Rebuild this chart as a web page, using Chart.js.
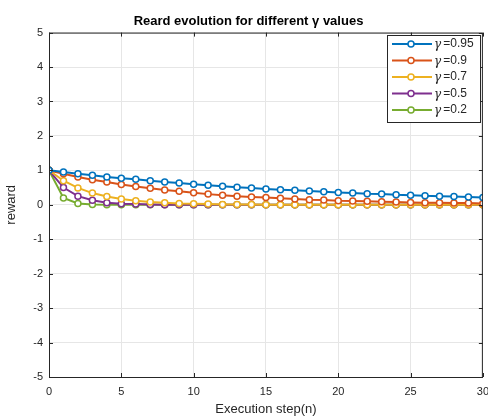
<!DOCTYPE html>
<html>
<head>
<meta charset="utf-8">
<script src="https://cdn.jsdelivr.net/npm/chart.js@4"></script>
<style>
html, body { margin: 0; padding: 0; background: #fff; overflow: hidden; }
#wrap { position: relative; width: 497px; height: 418px; }
</style>
</head>
<body>
<div id="wrap"><canvas id="myChart"></canvas></div>
<script>
const steps = [0, 1, 2, 3, 4, 5, 6, 7, 8, 9, 10, 11, 12, 13, 14, 15, 16, 17, 18, 19, 20, 21, 22, 23, 24, 25, 26, 27, 28, 29, 30];
const gammaLabels = ['0.95', '0.9', '0.7', '0.5', '0.2'];
const xTicks = [0, 5, 10, 15, 20, 25, 30];
const yTicks = [-5, -4, -3, -2, -1, 0, 1, 2, 3, 4, 5];

// values
const reward95 = [1, 0.95, 0.9, 0.86, 0.81, 0.77, 0.74, 0.7, 0.66, 0.63, 0.6, 0.57, 0.54, 0.51, 0.49, 0.46, 0.44, 0.42, 0.4, 0.38, 0.36, 0.34, 0.32, 0.31, 0.29, 0.28, 0.26, 0.25, 0.24, 0.23, 0.21];
const reward90 = [1, 0.9, 0.81, 0.73, 0.66, 0.59, 0.53, 0.48, 0.43, 0.39, 0.35, 0.31, 0.28, 0.25, 0.23, 0.21, 0.19, 0.17, 0.15, 0.14, 0.12, 0.11, 0.1, 0.09, 0.08, 0.07, 0.06, 0.06, 0.05, 0.05, 0.04];
const reward70 = [1, 0.7, 0.49, 0.34, 0.24, 0.17, 0.12, 0.08, 0.06, 0.04, 0.03, 0.02, 0.01, 0.01, 0.01, 0, 0, 0, 0, 0, 0, 0, 0, 0, 0, 0, 0, 0, 0, 0, 0];
const reward50 = [1, 0.5, 0.25, 0.13, 0.06, 0.03, 0.02, 0.01, 0, 0, 0, 0, 0, 0, 0, 0, 0, 0, 0, 0, 0, 0, 0, 0, 0, 0, 0, 0, 0, 0, 0];
const reward20 = [1, 0.2, 0.04, 0.01, 0, 0, 0, 0, 0, 0, 0, 0, 0, 0, 0, 0, 0, 0, 0, 0, 0, 0, 0, 0, 0, 0, 0, 0, 0, 0, 0];

const colors = ['#0072BD', '#D95319', '#EDB120', '#7E2F8E', '#77AC30'];
const allSeries = [reward95, reward90, reward70, reward50, reward20];
const font = '"Liberation Sans", Arial, Helvetica, sans-serif';

const datasets = allSeries.map((vals, i) => ({
    label: gammaLabels[i],
    data: steps.map((s, j) => ({ x: s, y: vals[j] })),
    borderColor: colors[i],
    backgroundColor: colors[i],
    borderWidth: 2,
    pointRadius: 3,
    pointBorderWidth: 1.5,
    pointBackgroundColor: '#ffffff',
    pointBorderColor: colors[i],
    tension: 0
}));

// axes box, inner tick marks and the legend in matlab style
const matlabLook = {
    id: 'matlabLook',
    afterDraw(chart) {
        const c = chart.ctx;
        const a = chart.chartArea;
        const xs = chart.scales.x, ys = chart.scales.y;
        c.save();
        c.strokeStyle = '#262626';
        c.lineWidth = 1;
        c.strokeRect(a.left + 0.5, a.top + 0.5, a.right - a.left - 1, a.bottom - a.top);
        c.beginPath();
        xTicks.forEach(t => {
            const px = Math.round(xs.getPixelForValue(t)) + 0.5;
            c.moveTo(px, a.bottom); c.lineTo(px, a.bottom - 4);
            c.moveTo(px, a.top); c.lineTo(px, a.top + 4);
        });
        yTicks.forEach(t => {
            const py = Math.round(ys.getPixelForValue(t)) + 0.5;
            c.moveTo(a.left, py); c.lineTo(a.left + 4, py);
            c.moveTo(a.right, py); c.lineTo(a.right - 4, py);
        });
        c.stroke();

        // legend
        const bx = 387, by = 35, bw = 93, bh = 87;
        c.fillStyle = '#ffffff';
        c.fillRect(bx, by, bw, bh);
        c.strokeStyle = '#262626';
        c.strokeRect(bx + 0.5, by + 0.5, bw, bh);
        gammaLabels.forEach((lab, i) => {
            const y = 44 + i * 16.5;
            c.strokeStyle = colors[i];
            c.lineWidth = 2;
            c.beginPath();
            c.moveTo(392, y); c.lineTo(432, y);
            c.stroke();
            c.beginPath();
            c.arc(411, y, 3, 0, Math.PI * 2);
            c.fillStyle = '#ffffff';
            c.fill();
            c.lineWidth = 1.5;
            c.stroke();
            c.fillStyle = '#262626';
            c.textBaseline = 'middle';
            c.textAlign = 'left';
            c.font = 'italic 12px "DejaVu Serif", serif';
            c.fillText('γ', 434, y + 1);
            c.font = '12px ' + font;
            c.fillText(' =' + lab, 440, y);
        });
        c.restore();
    }
};

const ctx = document.getElementById('myChart').getContext('2d');
const myChart = new Chart(ctx, {
    type: 'line',
    data: { datasets: datasets },
    options: {
        responsive: true,
        maintainAspectRatio: false,
        animation: false,
        layout: { padding: { left: 0, right: 0, top: 0, bottom: 0 } },
        scales: {
            x: {
                type: 'linear',
                min: 0,
                max: 30,
                afterFit(scale) { scale.height = 41; },
                afterBuildTicks(scale) { scale.ticks = xTicks.map(v => ({ value: v })); },
                grid: { color: '#e6e6e6', drawTicks: false },
                border: { display: false },
                ticks: { color: '#262626', padding: 8, font: { family: font, size: 11 }, maxRotation: 0 },
                title: { display: true, text: 'Execution step(n)', color: '#262626', padding: { top: 0, bottom: 1 }, font: { family: font, size: 13 } }
            },
            y: {
                min: -5,
                max: 5,
                afterFit(scale) { scale.width = 49; },
                afterBuildTicks(scale) { scale.ticks = yTicks.map(v => ({ value: v })); },
                grid: { color: '#e6e6e6', drawTicks: false },
                border: { display: false },
                ticks: { color: '#262626', padding: 6, font: { family: font, size: 11 } },
                title: { display: true, text: 'reward', color: '#262626', padding: { top: 4, bottom: 0 }, font: { family: font, size: 13 } }
            }
        },
        plugins: {
            legend: { display: false },
            tooltip: { enabled: false },
            title: {
                display: true,
                text: 'Reard evolution for different γ values',
                color: '#000000',
                font: { family: font, size: 13, weight: 'bold' },
                padding: { top: 14, bottom: 3 }
            }
        }
    },
    plugins: [matlabLook]
});
</script>
</body>
</html>
